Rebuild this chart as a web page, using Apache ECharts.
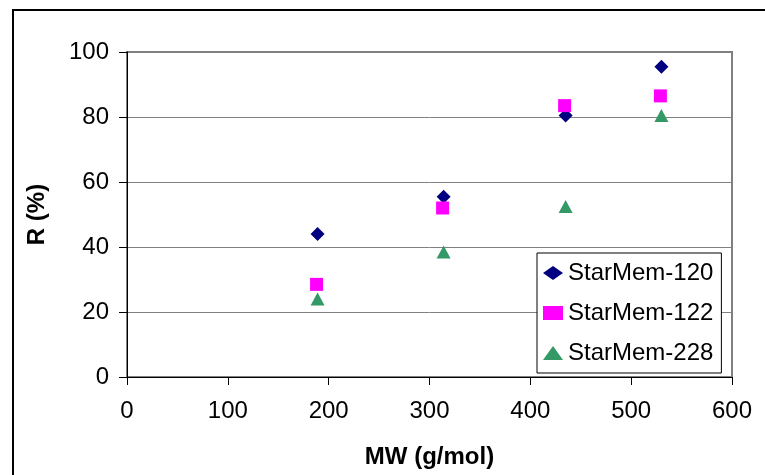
<!DOCTYPE html>
<html>
<head>
<meta charset="utf-8">
<script src="https://cdn.jsdelivr.net/npm/echarts@6/dist/echarts.min.js"></script>
<style>
  html, body { margin: 0; padding: 0; background: #fff; }
  #chart { width: 765px; height: 475px; }
</style>
</head>
<body>
<div id="chart"></div>
<script>
// series data: [MW, R]
const seriesNames = ['StarMem-120', 'StarMem-122', 'StarMem-228']
const starMem120 = [[189, 44], [314, 55.5], [435, 80.5], [530, 95.5]]
const starMem122 = [[188, 28.5], [313, 52], [434, 83.5], [529, 86.5]]
const starMem228 = [[189, 24], [314, 38.5], [435, 52.5], [530, 80.5]]
const xTicks = [0, 100, 200, 300, 400, 500, 600]
const yTicks = [0, 20, 40, 60, 80, 100]

const font = 'Arial, "Liberation Sans", sans-serif'
const chart = echarts.init(document.getElementById('chart'))

const option = {
  animation: false,
  grid: { left: 127, top: 52, width: 605, height: 325, show: true, borderColor: '#808080', borderWidth: 2 },
  xAxis: {
    type: 'value', min: xTicks[0], max: xTicks[xTicks.length - 1], interval: 100,
    name: 'MW (g/mol)', nameLocation: 'middle', nameGap: 68,
    nameTextStyle: { fontFamily: font, fontSize: 24, fontWeight: 'bold', color: '#000' },
    axisLine: { lineStyle: { color: '#000', width: 1 } },
    axisTick: { inside: false, length: 8, lineStyle: { color: '#000' } },
    axisLabel: { fontFamily: font, fontSize: 24, color: '#000', margin: 22 },
    splitLine: { show: false }
  },
  yAxis: {
    type: 'value', min: yTicks[0], max: yTicks[yTicks.length - 1], interval: 20,
    name: 'R (%)', nameLocation: 'middle', nameGap: 78, nameRotate: 90,
    nameTextStyle: { fontFamily: font, fontSize: 24, fontWeight: 'bold', color: '#000' },
    axisLine: { show: true, lineStyle: { color: '#000', width: 1 } },
    axisTick: { show: true, inside: false, length: 8, lineStyle: { color: '#000' } },
    axisLabel: { fontFamily: font, fontSize: 24, color: '#000', margin: 18 },
    splitLine: { show: true, lineStyle: { color: '#808080', width: 1 } }
  },
  legend: {
    left: 537, top: 253, orient: 'vertical',
    itemGap: 16,
    backgroundColor: '#fff', borderColor: '#000', borderWidth: 1,
    padding: [8, 8, 8, 6],
    itemWidth: 20, itemHeight: 14,
    textStyle: { fontFamily: font, fontSize: 24, color: '#000' },
    data: seriesNames
  },
  graphic: [
    { type: 'rect', shape: { x: 13, y: 10, width: 800, height: 500 }, style: { fill: 'none', stroke: '#000', lineWidth: 2 }, silent: true }
  ],
  series: [
    { name: seriesNames[0], type: 'scatter', data: starMem120, symbol: 'diamond', symbolSize: [14, 14], itemStyle: { color: '#000080', opacity: 1 } },
    { name: seriesNames[1], type: 'scatter', data: starMem122, symbol: 'rect', symbolSize: 13, itemStyle: { color: '#ff00ff', opacity: 1 } },
    { name: seriesNames[2], type: 'scatter', data: starMem228, symbol: 'triangle', symbolSize: [14, 13], itemStyle: { color: '#339966', opacity: 1 } }
  ]
}
chart.setOption(option)
</script>
</body>
</html>
